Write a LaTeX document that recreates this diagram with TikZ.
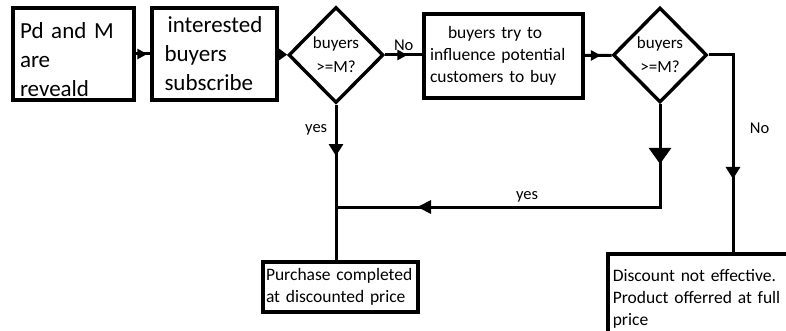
\documentclass[tikz,border=0pt]{standalone}
\usepackage{fontspec}
\setmainfont{Carlito}
\usetikzlibrary{arrows.meta,shapes.geometric,decorations.markings}

\begin{document}
\begin{tikzpicture}[
  x=1pt, y=-1pt, line width=3pt,
  box/.style = {draw, line width=3.6pt, align=left, inner ysep=0pt,
                font=\fontsize{17.5}{22}\selectfont},
  big/.style = {box, font=\fontsize{23}{29}\selectfont},
  dec/.style = {draw, diamond, line width=3.4pt, inner sep=0pt, align=center,
                minimum width=95pt, minimum height=96pt,
                font=\fontsize{17}{24}\selectfont},
  lbl/.style = {font=\fontsize{16.5}{19}\selectfont},
  tip/.style = {postaction=decorate, decoration={markings,
                mark=at position #1 with {\arrow{Triangle[width=14pt,length=12pt]}}}},
  small/.style = {postaction=decorate, decoration={markings,
                mark=at position #1 with {\arrow{Triangle[width=10pt,length=10pt]}}}}]
\useasboundingbox (0,0) rectangle (786,331);

% top row
\node[big, text width=107pt, inner xsep=7pt, minimum height=92pt] (reveal) at (73.5,54)
  {\rule{0pt}{27pt}Pd and M\\are\\reveald};
\node[big, text width=100pt, inner xsep=12.5pt, minimum height=92pt] (subscr) at (214.5,54)
  {\hspace*{3pt}interested\\buyers\\subscribe};
\node[dec] (chk1) at (336,55) {buyers\\>=M?};
\node[box, text width=147pt, inner xsep=6pt, minimum height=84pt] (influence) at (503.5,56)
  {\hspace*{18pt}buyers try to\\influence potential\\customers to buy};
\node[dec, minimum width=94pt, minimum height=95pt] (chk2) at (660,55) {buyers\\>=M?};

% outcomes
\node[box, text width=149pt, inner xsep=3pt, minimum height=50pt] (done) at (340.5,287)
  {Purchase completed\\at discounted price};
\node[box, anchor=north west, text width=184pt, inner xsep=5pt, minimum height=90pt] (full)
  at (606,252) {Discount not effective.\\Product offerred at full\\price};

\coordinate (turn) at (733,55);
\coordinate (back) at (660,207);
\coordinate (join) at (chk1.south |- back);

\draw[small=0.8] (reveal) -- (subscr);
\draw[-{Triangle[width=11pt,length=8pt]}] (subscr) -- (chk1);
\draw[small=0.6] (chk1.east) -- node[lbl, above] {No} (chk1.east -| influence.west);
\draw[small=0.6] (influence) -- (chk2);
\draw[tip=0.67] (chk2.east) -- (turn)
  -- node[lbl, pos=0.37, right=12pt] {No} (turn |- full.north);
\draw[tip=0.33] (chk1.south)
  -- node[lbl, pos=0.16, left=4pt] {yes} (chk1.south |- done.north);
\draw[postaction=decorate, decoration={markings,
      mark=at position 0.14 with {\arrow{Triangle[width=22pt,length=16pt]}},
      mark=at position 0.81 with {\arrow{Triangle[width=13pt,length=14pt]}}}]
  (chk2.south) -- (back) -- node[lbl, pos=0.41, above] {yes} (join);
\end{tikzpicture}
\end{document}
